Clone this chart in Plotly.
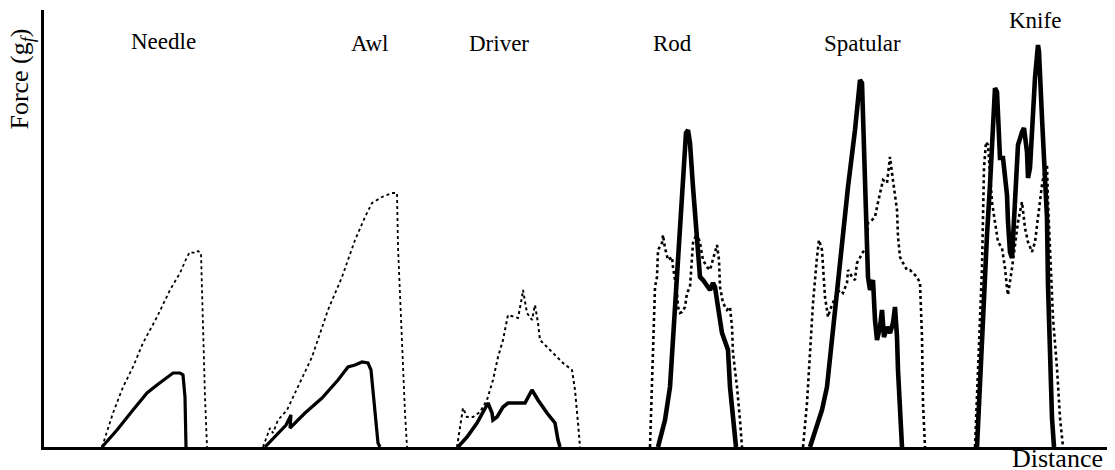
import plotly.graph_objects as go

# ---- data (distance units, force units) ----
tools = ["Needle", "Awl", "Driver", "Rod", "Spatular", "Knife"]

needle_dot_x = [102, 113, 123, 133, 143, 157, 170, 180, 187, 190, 195, 198, 201, 203, 205, 207]
needle_dot_f = [0, 34, 60, 80, 104, 130, 157, 174, 190, 195, 194, 196, 194, 117, 50, 0]
needle_sol_x = [102, 117, 133, 147, 157, 167, 173, 180, 183, 185, 186]
needle_sol_f = [0, 17, 37, 54, 62, 69, 74, 74, 72, 50, 0]

awl_dot_x = [263, 270, 273, 278, 287, 298, 312, 328, 342, 355, 365, 372, 382, 392, 397, 398, 402, 405, 407]
awl_dot_f = [0, 19, 14, 27, 37, 60, 90, 137, 170, 207, 230, 244, 250, 254, 254, 200, 100, 34, 0]
awl_sol_x = [265, 275, 286, 291, 290, 305, 322, 338, 348, 355, 362, 368, 371, 378, 380]
awl_sol_f = [0, 10, 22, 32, 19, 34, 49, 67, 80, 82, 85, 84, 77, 4, 0]

driver_dot_x = [457, 462, 463, 467, 473, 480, 487, 493, 498, 503, 508, 515, 518, 522, 523, 527, 532, 535,
                538, 540, 550, 557, 563, 572, 575, 578, 580]
driver_dot_f = [0, 34, 39, 30, 30, 35, 47, 67, 90, 107, 132, 130, 129, 150, 157, 134, 127, 142,
                124, 107, 97, 90, 84, 77, 57, 24, 0]
driver_sol_x = [458, 467, 477, 483, 488, 492, 493, 497, 503, 508, 517, 525, 532, 538, 547, 555, 558, 560]
driver_sol_f = [0, 10, 24, 34, 44, 34, 27, 30, 40, 44, 44, 44, 57, 47, 34, 24, 7, 0]

rod_dot_x = [650, 653, 655, 657, 658, 662, 663, 665, 668, 672, 673, 677, 678, 680, 682, 685, 687, 690, 692,
             693, 697, 700, 703, 707, 710, 713, 717, 719, 720, 723, 727, 730, 732, 733, 737, 740, 742]
rod_dot_f = [0, 94, 160, 170, 197, 204, 212, 199, 187, 190, 180, 154, 140, 134, 135, 140, 154, 160, 194,
             204, 214, 204, 187, 180, 177, 187, 202, 187, 160, 144, 137, 140, 120, 94, 60, 27, 0]
rod_sol_x = [658, 665, 670, 673, 677, 680, 683, 686, 688, 690, 693, 697, 698, 700, 703, 707, 710, 713, 715,
             718, 722, 727, 728, 730, 733, 736]
rod_sol_f = [0, 27, 60, 110, 160, 210, 277, 314, 317, 304, 260, 200, 187, 170, 167, 160, 157, 164, 160,
             140, 114, 100, 97, 60, 27, 0]

spat_dot_x = [803, 807, 810, 813, 817, 819, 822, 823, 825, 827, 828, 830, 833, 837, 840, 843, 847, 848, 852,
              855, 857, 860, 863, 867, 868, 872, 875, 877, 880, 883, 887, 890, 892, 895, 897, 898, 900, 903,
              907, 910, 913, 917, 920, 922, 923, 925]
spat_dot_f = [0, 44, 94, 144, 190, 207, 197, 177, 150, 137, 130, 137, 144, 154, 157, 154, 164, 177, 170,
              167, 184, 190, 195, 200, 224, 227, 230, 240, 254, 267, 264, 290, 274, 250, 237, 210, 190, 184,
              177, 177, 174, 170, 164, 110, 44, 0]
spat_sol_x = [810, 815, 822, 827, 832, 837, 842, 848, 855, 860, 862, 863, 865, 867, 868, 870, 872, 873, 875,
              877, 880, 882, 884, 887, 890, 893, 895, 897, 898, 901, 902]
spat_sol_f = [0, 17, 37, 60, 110, 160, 210, 260, 317, 367, 364, 327, 260, 194, 170, 157, 164, 167, 127,
              107, 120, 137, 110, 120, 114, 124, 140, 110, 77, 27, 0]

knife_dot_x = [975, 978, 982, 984, 986, 988, 990, 992, 995, 998, 1002, 1003, 1005, 1007, 1008, 1012, 1015,
               1018, 1022, 1025, 1028, 1032, 1035, 1038, 1042, 1045, 1047, 1048, 1051, 1053, 1057, 1060, 1063]
knife_dot_f = [0, 79, 179, 279, 305, 302, 272, 245, 225, 205, 199, 192, 179, 159, 152, 179, 205,
               225, 245, 219, 205, 195, 205, 229, 262, 279, 282, 245, 179, 129, 79, 29, 0]
knife_sol_x = [977, 980, 983, 987, 990, 993, 995, 997, 998, 1000, 1003, 1005, 1007, 1008, 1010, 1012, 1013,
               1015, 1017, 1018, 1022, 1024, 1027, 1028, 1030, 1032, 1035, 1038, 1039, 1042, 1044, 1047,
               1048, 1050, 1052, 1054]
knife_sol_f = [0, 62, 145, 212, 262, 312, 359, 355, 329, 289, 289, 272, 252, 225, 195, 189, 205,
               245, 279, 302, 315, 319, 295, 269, 279, 319, 369, 402, 395, 329, 279, 229,
               162, 95, 29, 0]

label_x = [163, 370, 499, 672, 862, 1035]

dotted_x = [needle_dot_x, awl_dot_x, driver_dot_x, rod_dot_x, spat_dot_x, knife_dot_x]
dotted_f = [needle_dot_f, awl_dot_f, driver_dot_f, rod_dot_f, spat_dot_f, knife_dot_f]
solid_x = [needle_sol_x, awl_sol_x, driver_sol_x, rod_sol_x, spat_sol_x, knife_sol_x]
solid_f = [needle_sol_f, awl_sol_f, driver_sol_f, rod_sol_f, spat_sol_f, knife_sol_f]

# styles (per tool)
dot_widths = [1.8, 1.8, 2.0, 2.6, 2.6, 2.6]
sol_widths = [3.2, 3.2, 3.6, 4.6, 4.6, 4.6]
label_y = [0.927, 0.924, 0.924, 0.924, 0.924, 0.975]

FONT = "Liberation Serif, Times New Roman, serif"

fig = go.Figure()

for i in range(len(tools)):
    fig.add_trace(go.Scatter(x=dotted_x[i], y=dotted_f[i], mode="lines",
                             line=dict(color="black", width=dot_widths[i], dash="dot"),
                             hoverinfo="skip", showlegend=False))
    fig.add_trace(go.Scatter(x=solid_x[i], y=solid_f[i], mode="lines",
                             line=dict(color="black", width=sol_widths[i]),
                             hoverinfo="skip", showlegend=False))

annotations = []
for name, lx, ly in zip(tools, label_x, label_y):
    annotations.append(dict(
        x=lx, y=ly, xref="x", yref="paper",
        text=name, showarrow=False, xanchor="center", yanchor="middle",
        font=dict(family=FONT, size=23, color="black")))

annotations.append(dict(
    x=-0.0215, y=0.843, xref="paper", yref="paper",
    text="Force (g<sub><i>f</i></sub>)", textangle=-90, showarrow=False,
    xanchor="center", yanchor="middle",
    font=dict(family=FONT, size=26, color="black")))
annotations.append(dict(
    x=0.946, y=-0.027, xref="paper", yref="paper",
    text="Distance", showarrow=False, xanchor="center", yanchor="middle",
    font=dict(family=FONT, size=26, color="black")))

# page body adds an 8px offset, so the figure is sized to sit inside the window
fig.update_layout(
    width=1107, height=462,
    margin=dict(l=36, r=0, t=2, b=23),
    paper_bgcolor="white", plot_bgcolor="white",
    annotations=annotations,
    xaxis=dict(range=[44, 1115], showgrid=False, zeroline=False, showticklabels=False,
               ticks="", showline=True, linecolor="black", linewidth=2.5),
    yaxis=dict(range=[0, 437], showgrid=False, zeroline=False, showticklabels=False,
               ticks="", showline=True, linecolor="black", linewidth=3),
)

fig.write_html("out.html")
